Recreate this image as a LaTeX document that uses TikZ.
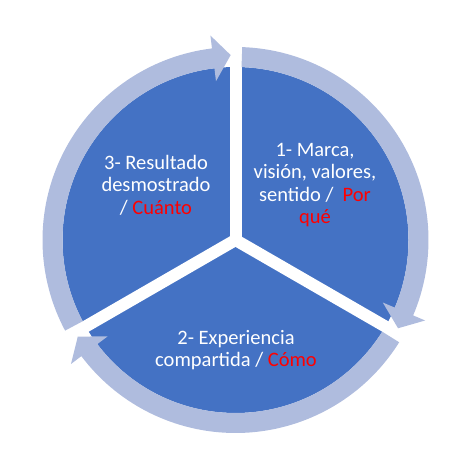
\documentclass[tikz,border=0pt]{standalone}
\usepackage{fontspec}
\setmainfont{Carlito}
\definecolor{segblue}{HTML}{4472C4}
\definecolor{ringblue}{HTML}{AFBCDE}
\begin{document}
\begin{tikzpicture}[
    x=1pt,y=1pt,
    seg/.style={fill=segblue},
    ring/.style={fill=ringblue},
    gap/.style={draw=white,line width=12pt},
    lbl/.style={text=white,align=center,font=\fontsize{20.5}{22.5}\selectfont}
]
\useasboundingbox (0,0) rectangle (474,468);
\coordinate (c) at (235.5,228);
\fill[seg] (c) circle[radius=173];
\foreach \a in {90,-30,210}
  \draw[gap] (c) -- ++(\a:200);
\foreach \s in {208,88,-32} {
  \pgfmathsetmacro{\base}{\s-111}
  \pgfmathsetmacro{\tipa}{\s-116.5}
  \fill[ring,shift={(c)}] (\s:193) arc[start angle=\s,end angle=\base,radius=193]
    -- (\base:206) -- (\tipa:185) -- (\base:160) -- (\base:173)
    arc[start angle=\base,end angle=\s,radius=173] -- cycle;
}
\node[lbl] (marca) at (315,283) {1- Marca,\\visión, valores,\\sentido /\ \ \textcolor{red}{Por}\\\textcolor{red}{qué}};
\node[lbl] (experiencia) at (236,118) {2- Experiencia\\compartida / \textcolor{red}{Cómo}};
\node[lbl] (resultado) at (156,283) {3- Resultado\\desmostrado\\/ \textcolor{red}{Cuánto}};
\end{tikzpicture}
\end{document}
